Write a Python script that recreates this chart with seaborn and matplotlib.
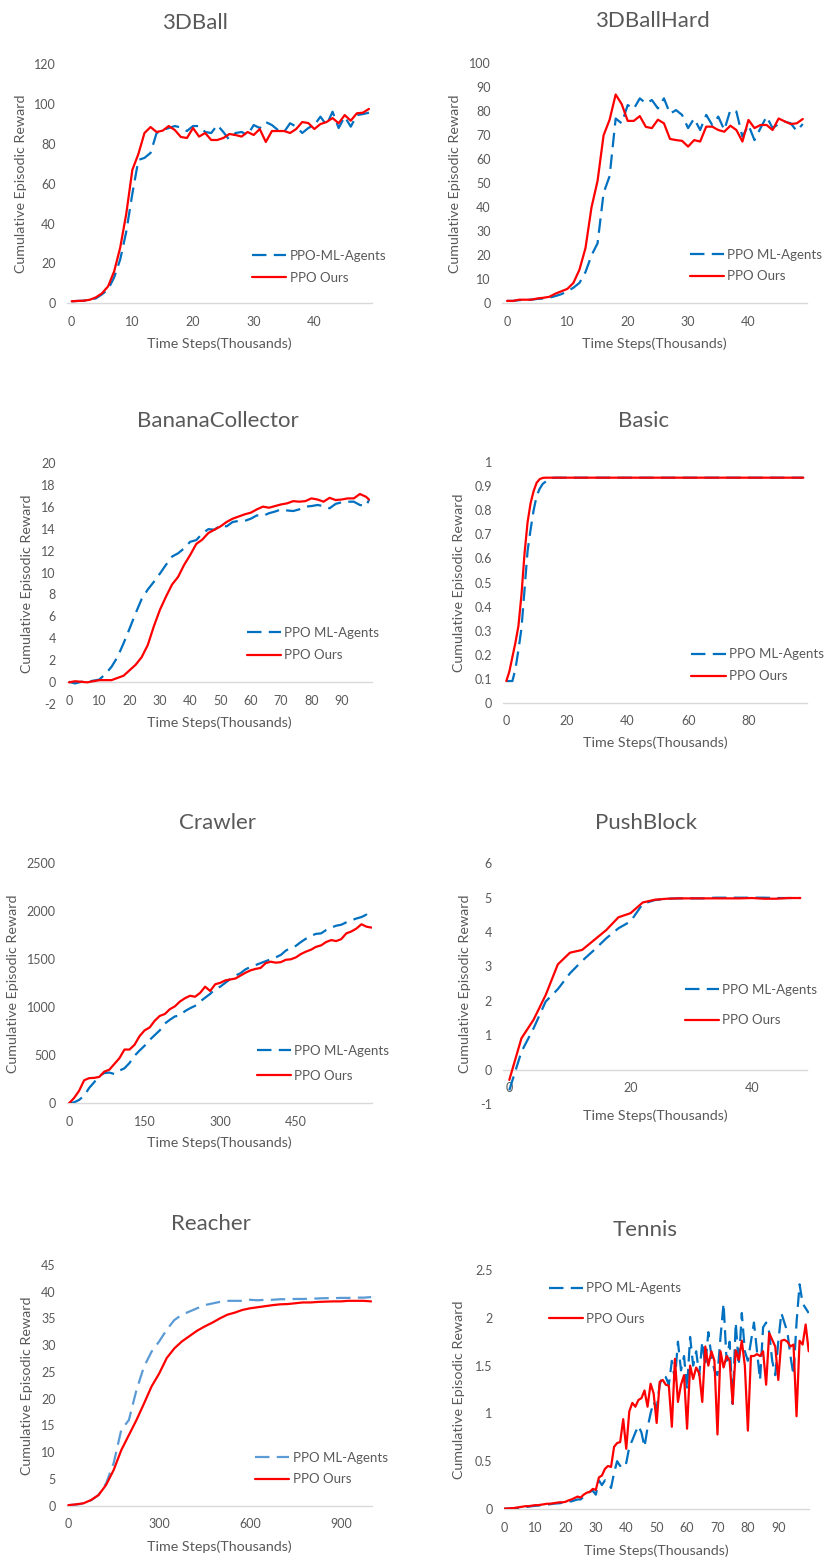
import matplotlib
matplotlib.use("Agg")
import matplotlib.pyplot as plt
import seaborn as sns
from matplotlib.ticker import FuncFormatter

W, H = 825, 1561

# ---------------- data ----------------
ball3d_steps = list(range(50))
ball3d_mlagents = [1, 1.2, 1.3, 1.8, 2.5, 4.5, 7, 13, 22, 36,
                   55, 72, 73, 75.5, 85.5, 87, 88, 89, 88.3, 86.5,
                   89, 89, 86, 85.5, 89.5, 86, 82, 85.5, 86, 84.5,
                   89.5, 88, 91, 89.5, 87, 86, 90.4, 88.7, 85.5, 88,
                   89.5, 93.7, 89.5, 96.2, 88, 93.7, 88.7, 94.5, 95, 95.7]
ball3d_ours = [1, 1.2, 1.3, 1.8, 3, 5, 8.5, 16, 28, 45,
               67, 75, 85.5, 88.5, 86, 86.7, 89, 87, 83.5, 83,
               88, 83.7, 85.5, 82, 82, 83, 85, 84.5, 83.7, 86,
               84.5, 87.5, 81, 86.5, 86.5, 86.5, 85.5, 87.5, 91, 90.5,
               87.5, 90, 91, 93, 90.4, 94.5, 91.7, 95.4, 95.7, 97.6]

hard_steps = list(range(50))
hard_mlagents = [1, 1, 1.3, 1.5, 1.5, 1.8, 2, 2.3, 3, 3.8,
                 5, 6.5, 8.5, 13, 20, 25, 46, 53, 77, 75,
                 82.6, 81, 85.4, 83.3, 84.7, 81.2, 85.4, 79, 80.5, 78.5,
                 73, 77, 72.2, 78.5, 74.3, 77.8, 72.2, 80.5, 79.9, 69.4,
                 74.3, 68, 73, 77.8, 73, 74.7, 75.7, 75, 71.8, 74.7]
hard_ours = [1, 1, 1.5, 1.5, 1.5, 2, 2.3, 2.7, 4, 5,
             6, 8.5, 14, 23, 40, 51, 70, 76.5, 87, 83,
             76, 76, 78, 73.5, 73, 76.5, 75, 68.5, 68, 67.7,
             65.3, 68, 67.4, 73.6, 73.6, 72.2, 71.5, 74, 72.2, 67.4,
             76.4, 73, 74.3, 74.3, 72.2, 77, 75.8, 74.7, 75, 76.8]

banana_steps = list(range(0, 100, 2)) + [99]
banana_mlagents = [0.05, -0.1, 0.05, 0.05, 0.15, 0.25,
                   0.75, 1.4, 2.3, 3.55, 4.9, 6.3, 7.6, 8.45, 9.15, 9.9,
                   10.7, 11.45, 11.75, 12.2, 12.8, 12.95, 13.55, 13.95, 13.9, 14.3,
                   14.2, 14.6, 14.7, 14.7, 14.9, 15.2, 15.15, 15.4, 15.55, 15.75,
                   15.65, 15.6, 15.75, 16, 16.05, 16.15, 16.05, 15.85, 16.25, 16.4,
                   16.45, 16.45, 16.15, 16.05, 16.6]
banana_ours = [0, 0.1, 0.05, 0, 0.1, 0.2,
               0.2, 0.2, 0.4, 0.6, 1.1, 1.6, 2.3, 3.4, 5.1, 6.6,
               7.8, 8.9, 9.6, 10.7, 11.6, 12.6, 13.0, 13.6, 13.9, 14.2,
               14.6, 14.9, 15.1, 15.3, 15.45, 15.75, 16.0, 15.9, 16.05, 16.2,
               16.3, 16.5, 16.45, 16.5, 16.75, 16.65, 16.45, 16.8, 16.6, 16.65,
               16.75, 16.75, 17.15, 16.9, 16.65]

basic_mlagents_steps = list(range(17)) + [98]
basic_mlagents = [0.09, 0.09, 0.09, 0.14, 0.22, 0.31, 0.47, 0.63, 0.72, 0.8,
                  0.86, 0.89, 0.91, 0.92, 0.93, 0.935, 0.936, 0.936]
basic_ours_steps = list(range(14)) + [98]
basic_ours = [0.09, 0.13, 0.19, 0.25, 0.32, 0.45, 0.62, 0.75, 0.83, 0.88,
              0.915, 0.93, 0.935, 0.936, 0.936]

crawler_steps = list(range(0, 601, 10))
crawler_mlagents = [0, 10, 35, 80, 160, 220, 285, 315, 320, 305,
                    340, 365, 420, 495, 550, 600, 660, 710, 760, 830,
                    870, 905, 915, 960, 990, 1015, 1060, 1100, 1140, 1190,
                    1215, 1255, 1295, 1330, 1355, 1395, 1420, 1440, 1460, 1480,
                    1500, 1520, 1545, 1590, 1620, 1640, 1680, 1715, 1745, 1765,
                    1770, 1805, 1830, 1850, 1860, 1885, 1905, 1925, 1940, 1965,
                    1910]
crawler_ours = [0, 55, 130, 240, 262, 265, 275, 330, 350, 410,
                470, 560, 560, 610, 700, 760, 790, 860, 910, 930,
                980, 1010, 1060, 1095, 1120, 1110, 1150, 1215, 1170, 1240,
                1255, 1280, 1290, 1300, 1330, 1360, 1385, 1400, 1410, 1460,
                1475, 1465, 1470, 1495, 1500, 1520, 1555, 1580, 1600, 1630,
                1645, 1680, 1700, 1690, 1710, 1770, 1790, 1820, 1865, 1840,
                1830]

push_steps = list(range(0, 49, 2))
push_mlagents = [-0.6, 0.52, 1.2, 1.98, 2.34, 2.8, 3.16, 3.48, 3.82, 4.11,
                 4.31, 4.82, 4.93, 4.97, 4.98, 4.98, 4.98, 5.0, 5.0, 5.0,
                 5.0, 5.0, 4.99, 4.99, 4.99]
push_ours = [-0.3, 0.91, 1.45, 2.17, 3.06, 3.4, 3.48, 3.77, 4.06, 4.43,
             4.55, 4.86, 4.94, 4.97, 4.98, 4.98, 4.98, 4.98, 4.98, 4.98,
             4.99, 4.97, 4.97, 4.99, 4.99]

reacher_steps = list(range(0, 1001, 25))
reacher_mlagents = [0.1, 0.2, 0.4, 1, 2, 4.2, 8, 14.2, 16, 21.6,
                    26, 28.8, 30.7, 32.9, 34.7, 35.7, 36.3, 36.9, 37.5, 37.8,
                    38.1, 38.3, 38.3, 38.3, 38.5, 38.4, 38.5, 38.5, 38.6, 38.6,
                    38.65, 38.65, 38.7, 38.75, 38.8, 38.8, 38.85, 38.85, 38.9, 38.9,
                    39]
reacher_ours = [0.1, 0.25, 0.45, 1.05, 2, 3.9, 6.7, 10.4, 13.2, 16,
                19.1, 22.3, 24.7, 27.6, 29.4, 30.7, 31.7, 32.7, 33.5, 34.2,
                35, 35.7, 36.1, 36.6, 36.9, 37.1, 37.3, 37.5, 37.65, 37.7,
                37.85, 38, 38, 38.1, 38.15, 38.2, 38.2, 38.3, 38.3, 38.3,
                38.2]

tennis_steps = list(range(101))
tennis_mlagents = [0.003, 0.004, 0.006, 0.008, 0.01, 0.015, 0.02, 0.022, 0.025, 0.03,
                   0.033, 0.036, 0.04, 0.043, 0.047, 0.05, 0.055, 0.058, 0.06, 0.065,
                   0.07, 0.08, 0.08, 0.09, 0.1, 0.1, 0.13, 0.16, 0.18, 0.19,
                   0.15, 0.3, 0.25, 0.3, 0.27, 0.22, 0.38, 0.5, 0.45, 0.5,
                   0.48, 0.65, 0.72, 0.8, 0.87, 0.8, 0.65, 0.85, 1.0, 1.12,
                   1.05, 1.3, 1.4, 1.38, 1.3, 1.55, 1.35, 1.75, 1.45, 1.6,
                   1.25, 1.8, 1.5, 1.65, 1.4, 1.75, 1.5, 1.85, 1.6, 1.45,
                   1.4, 1.8, 2.15, 1.55, 1.75, 1.1, 1.95, 1.5, 2.05, 1.65,
                   1.55, 1.75, 1.95, 1.65, 1.35, 1.9, 1.95, 1.85, 1.55, 1.4,
                   1.75, 2.05, 1.95, 1.85, 1.6, 1.4, 1.95, 2.35, 2.15, 2.1,
                   2.05]
tennis_ours = [0.005, 0.005, 0.008, 0.01, 0.015, 0.02, 0.025, 0.03, 0.03, 0.035,
               0.04, 0.04, 0.045, 0.05, 0.055, 0.055, 0.06, 0.065, 0.07, 0.07,
               0.075, 0.09, 0.1, 0.115, 0.13, 0.12, 0.15, 0.17, 0.18, 0.21,
               0.2, 0.33, 0.35, 0.42, 0.45, 0.44, 0.65, 0.69, 0.7, 0.94,
               0.63, 1.02, 1.11, 1.07, 1.14, 1.16, 1.24, 1.07, 1.31, 1.21,
               0.9, 1.33, 1.35, 1.3, 1.29, 0.86, 1.57, 1.12, 1.3, 1.4,
               0.84, 1.5, 1.36, 1.48, 1.42, 1.12, 1.7, 1.5, 1.65, 1.55,
               0.78, 1.65, 1.48, 1.6, 1.55, 1.1, 1.66, 1.56, 1.76, 1.5,
               0.82, 1.6, 1.6, 1.62, 1.6, 1.65, 1.3, 1.84, 1.77, 1.7,
               1.35, 1.76, 1.77, 1.75, 1.7, 1.72, 0.97, 1.76, 1.72, 1.93,
               1.65]

# ---------------- style ----------------
sns.set_theme(style="white")
plt.rcParams["font.family"] = ["Lato", "DejaVu Sans"]

GREY = "#595959"
AXIS = "#D9D9D9"
BLUE = "#0070C0"
LIGHT_BLUE = "#5B9BD5"
RED = "#FF0000"
LW = 1.6

# box = (left, right, top, bottom) in pixels, leg = (x, y_mid, labelspacing)
panels = [
    dict(title="3DBall", tpos=(195, 23), box=(67, 372, 64.3, 303.3),
         xlim=(-0.77, 49.5), ylim=(0, 120), xticks=range(0, 41, 10), yticks=range(0, 121, 20),
         xlab_y=344, ylab_x=21, leg=(252, 266.7, 0.75), mlabel="PPO-ML-Agents", blue=BLUE,
         x1=ball3d_steps, y1=ball3d_mlagents, x2=ball3d_steps, y2=ball3d_ours),
    dict(title="3DBallHard", tpos=(652, 21), box=(502, 807, 63.3, 303.3),
         xlim=(-0.83, 49.7), ylim=(0, 100), xticks=range(0, 41, 10), yticks=range(0, 101, 10),
         xlab_y=344, ylab_x=455, leg=(689.7, 265.5, 0.75), mlabel="PPO ML-Agents", blue=BLUE,
         x1=hard_steps, y1=hard_mlagents, x2=hard_steps, y2=hard_ours),
    dict(title="BananaCollector", tpos=(218, 421), box=(67, 372, 462.7, 704.3),
         xlim=(-0.66, 100), ylim=(-2, 20), xticks=range(0, 91, 10), yticks=range(-2, 21, 2),
         xlab_y=723, ylab_x=27, leg=(246.7, 644.2, 0.8), mlabel="PPO ML-Agents", blue=BLUE,
         x1=banana_steps, y1=banana_mlagents, x2=banana_steps, y2=banana_ours),
    dict(title="Basic", tpos=(644, 421), box=(503, 807, 462.3, 702.7),
         xlim=(-1.1, 99.2), ylim=(0, 1), xticks=range(0, 81, 20), yticks=[i / 10 for i in range(11)],
         xlab_y=743, ylab_x=459, leg=(691.3, 665.2, 0.75), mlabel="PPO ML-Agents", blue=BLUE,
         x1=basic_mlagents_steps, y1=basic_mlagents, x2=basic_ours_steps, y2=basic_ours),
    dict(title="Crawler", tpos=(218, 823), box=(67, 372, 863.3, 1103.3),
         xlim=(-4, 601), ylim=(0, 2500), xticks=range(0, 451, 150), yticks=range(0, 2501, 500),
         xlab_y=1143, ylab_x=13, leg=(256.7, 1063.4, 1.0), mlabel="PPO ML-Agents", blue=BLUE,
         x1=crawler_steps, y1=crawler_mlagents, x2=crawler_steps, y2=crawler_ours),
    dict(title="PushBlock", tpos=(646, 823), box=(503, 807, 863.3, 1104),
         xlim=(-1.04, 49.1), ylim=(-1, 6), xticks=range(0, 41, 20), yticks=range(-1, 7),
         xlab_y=1116, ylab_x=465, leg=(684.7, 1005, 1.4), mlabel="PPO ML-Agents", blue=BLUE,
         x1=push_steps, y1=push_mlagents, x2=push_steps, y2=push_ours),
    dict(title="Reacher", tpos=(211, 1224), box=(67, 372, 1265, 1505.7),
         xlim=(-4.3, 1003), ylim=(0, 45), xticks=range(0, 901, 300), yticks=range(0, 46, 5),
         xlab_y=1547, ylab_x=27, leg=(255, 1468.5, 0.75), mlabel="PPO ML-Agents", blue=LIGHT_BLUE,
         x1=reacher_steps, y1=reacher_mlagents, x2=reacher_steps, y2=reacher_ours),
    dict(title="Tennis", tpos=(645, 1230), box=(503.7, 808.7, 1270, 1509),
         xlim=(-0.3, 100), ylim=(0, 2.5), xticks=range(0, 91, 10), yticks=[0, 0.5, 1, 1.5, 2, 2.5],
         xlab_y=1551, ylab_x=459, leg=(548.7, 1303.7, 1.4), mlabel="PPO ML-Agents", blue=BLUE,
         x1=tennis_steps, y1=tennis_mlagents, x2=tennis_steps, y2=tennis_ours),
]

fig = plt.figure(figsize=(W / 100, H / 100), dpi=100)
fmt = FuncFormatter(lambda v, p: "%g" % round(v, 3))

for p in panels:
    left, right, top, bottom = p["box"]
    ax = fig.add_axes([left / W, 1 - bottom / H, (right - left) / W, (bottom - top) / H])

    sns.lineplot(x=p["x1"], y=p["y1"], ax=ax, color=p["blue"], lw=LW, label=p["mlabel"])
    ax.lines[-1].set_dashes([6.5, 3.3])
    sns.lineplot(x=p["x2"], y=p["y2"], ax=ax, color=RED, lw=LW, label="PPO Ours")

    ax.set_xlim(*p["xlim"])
    ax.set_ylim(*p["ylim"])
    ax.set_xticks(list(p["xticks"]))
    ax.set_yticks(list(p["yticks"]))
    ax.xaxis.set_major_formatter(fmt)
    ax.yaxis.set_major_formatter(fmt)
    ax.set_xlabel("")
    ax.set_ylabel("")
    for s in ["top", "right", "left"]:
        ax.spines[s].set_visible(False)
    ax.spines["bottom"].set_position(("data", 0))
    ax.spines["bottom"].set_color(AXIS)
    ax.spines["bottom"].set_linewidth(1.0)
    ax.spines["bottom"].set_zorder(0.5)
    ax.tick_params(axis="both", length=0, labelsize=9, labelcolor=GREY)
    ax.tick_params(axis="y", pad=8)
    ax.tick_params(axis="x", pad=9)
    ax.grid(False)
    ax.set_facecolor("white")

    lx, ly, spacing = p["leg"]
    leg = ax.legend(loc="center left", bbox_to_anchor=(lx / W, 1 - ly / H),
                    bbox_transform=fig.transFigure, frameon=False, fontsize=9.5,
                    handlelength=2.6, handletextpad=0.25, labelspacing=spacing,
                    borderpad=0, borderaxespad=0)
    for t in leg.get_texts():
        t.set_color(GREY)

    tx, ty = p["tpos"]
    fig.text(tx / W, 1 - ty / H, p["title"], ha="center", va="center",
             fontsize=16, color=GREY)
    fig.text((left + right) / 2 / W, 1 - p["xlab_y"] / H, "Time Steps(Thousands)",
             ha="center", va="center", fontsize=10.3, color=GREY)
    fig.text(p["ylab_x"] / W, 1 - (top + bottom) / 2 / H, "Cumulative Episodic Reward",
             ha="center", va="center", rotation=90, fontsize=10.3, color=GREY)

fig.savefig("out.png", dpi=100, facecolor="white")
